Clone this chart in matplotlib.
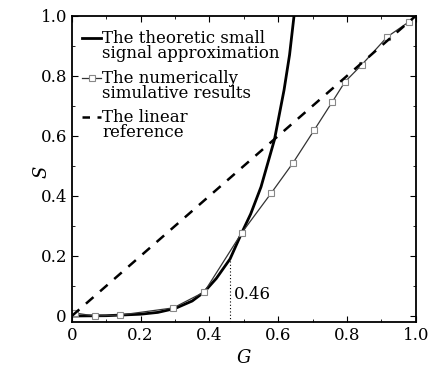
import numpy as np
import matplotlib.pyplot as plt

# theoretic small signal approximation
g_theory = [0.0, 0.1, 0.2, 0.25, 0.3, 0.35, 0.385, 0.42, 0.46, 0.494, 0.52, 0.55, 0.589, 0.617, 0.633, 0.646]
s_theory = [0.0, 0.001, 0.006, 0.012, 0.025, 0.05, 0.08, 0.125, 0.19, 0.277, 0.34, 0.43, 0.587, 0.753, 0.87, 1.0]

# numerically simulative results
g_num = [0.009, 0.066, 0.14, 0.295, 0.385, 0.494, 0.58, 0.643, 0.705, 0.757, 0.794, 0.843, 0.917, 0.98]
s_num = [0.01, 0.0, 0.003, 0.027, 0.08, 0.277, 0.41, 0.51, 0.62, 0.713, 0.78, 0.837, 0.93, 0.98]

# linear reference
g_lin = [0.0, 1.0]
s_lin = [0.0, 1.0]

g_mark = 0.46
s_mark = 0.19

labels = ["The theoretic small\nsignal approximation",
          "The numerically\nsimulative results",
          "The linear\nreference"]

plt.rcParams['font.family'] = ['DejaVu Serif']
plt.rcParams['mathtext.fontset'] = 'dejavuserif'

fig = plt.figure(figsize=(4.3, 3.68), dpi=100)
ax = fig.add_axes([0.167, 0.125, 0.80, 0.832])

ax.plot(g_theory, s_theory, color="black", lw=2.0)
ax.plot(g_num, s_num, color="#333333", lw=0.9, marker="s", ms=5,
        mfc="white", mec="#888888", mew=0.8)
ax.plot(g_lin, s_lin, color="black", lw=1.8, dashes=(4, 3.5))

ax.plot([g_mark, g_mark], [-0.02, s_mark], color="black", lw=0.8, ls=(0, (1, 2)))
ax.text(g_mark + 0.012, 0.073, "0.46", fontsize=12, va="center", ha="left")

# legend drawn by hand so the handle sits on the first text line
tr = ax.transAxes
handle_y = [0.928, 0.797, 0.670]
hx0, hx1, tx = 0.029, 0.086, 0.089
ax.plot([hx0, hx1], [handle_y[0]] * 2, transform=tr, color="black", lw=2.0)
ax.plot([hx0, hx1], [handle_y[1]] * 2, transform=tr, color="#333333", lw=0.9)
ax.plot([(hx0 + hx1) / 2], [handle_y[1]], transform=tr, marker="s", ms=5,
        mfc="white", mec="#888888", mew=0.8)
ax.plot([hx0, hx1], [handle_y[2]] * 2, transform=tr, color="black", lw=1.8,
        dashes=(3, 3))
for y, lab in zip(handle_y, labels):
    ax.text(tx, y + 0.027, lab, transform=tr, fontsize=12, va="top", ha="left",
            linespacing=0.85)

ax.set_xlim(0, 1.0)
ax.set_ylim(-0.02, 1.0)
ax.set_xticks([0, 0.2, 0.4, 0.6, 0.8, 1.0])
ax.set_xticklabels(["0", "0.2", "0.4", "0.6", "0.8", "1.0"])
ax.set_yticks([0, 0.2, 0.4, 0.6, 0.8, 1.0])
ax.set_yticklabels(["0", "0.2", "0.4", "0.6", "0.8", "1.0"])
ax.set_xticks(np.arange(0.1, 1.0, 0.2), minor=True)
ax.set_yticks(np.arange(0.1, 1.0, 0.2), minor=True)
ax.tick_params(which="both", direction="in", top=True, right=True, labelsize=12)
ax.tick_params(which="major", length=4)
ax.tick_params(which="minor", length=2.5)
for sp in ax.spines.values():
    sp.set_linewidth(1.3)

ax.set_xlabel("$G$", fontsize=13, labelpad=4)
ax.set_ylabel("$S$", fontsize=13)
ax.yaxis.set_label_coords(-0.06, 0.49)

fig.savefig("out.png", dpi=100)
